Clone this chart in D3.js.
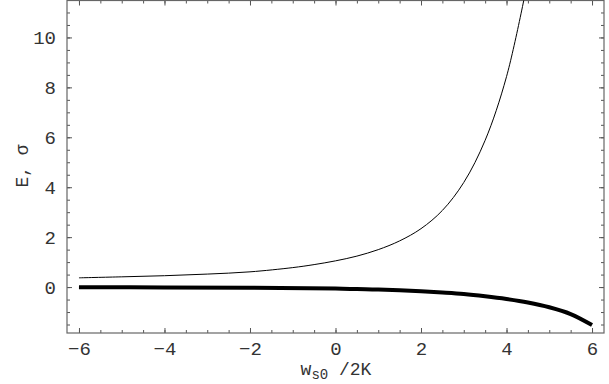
<!DOCTYPE html>
<html>
<head>
<meta charset="utf-8">
<script src="https://cdn.jsdelivr.net/npm/d3@7"></script>
<style>
  body { margin: 0; background: #fff; }
  svg { display: block; }
  .tick text { font-family: "Courier New", "Liberation Mono", monospace; font-size: 19px; fill: #333; }
  .lbl { font-family: "Courier New", "Liberation Mono", monospace; fill: #333; }
</style>
</head>
<body>
<svg id="chart" width="609" height="384"></svg>
<script>
// values
var xThin = [-6, -5, -4, -3, -2, -1, -0.5, 0, 0.5, 1, 1.5, 2, 2.5, 3, 3.5, 4, 4.5];
var yThin = [0.37, 0.41, 0.455, 0.52, 0.61, 0.78, 0.90, 1.05, 1.24, 1.50, 1.85, 2.34, 3.07, 4.19, 5.88, 8.43, 12.3];

var xThick = [-6, -4, -2, 0, 0.5, 1, 1.5, 2, 2.5, 3, 3.5, 4, 4.5, 5, 5.5, 6];
var yThick = [-0.01, -0.015, -0.03, -0.06, -0.08, -0.10, -0.13, -0.17, -0.22, -0.28, -0.37, -0.48, -0.62, -0.81, -1.08, -1.52];

var xMajor = [-6, -4, -2, 0, 2, 4, 6];
var yMajor = [0, 2, 4, 6, 8, 10];
var xMinor = d3.range(-12, 13).map(function (i) { return i / 2; });
var yMinor = d3.range(-3, 23).map(function (i) { return i / 2; });

var mLeft = 67, mRight = 604, mTop = 0.5, mBottom = 333;

var svg = d3.select("#chart");

var x = d3.scaleLinear().domain([-6.28, 6.28]).range([mLeft, mRight]);
var y = d3.scaleLinear().domain([-1.84, 11.48]).range([mBottom, mTop]);

var fmt = function (d) { return d < 0 ? "\u2212" + Math.abs(d) : String(d); };

// minor ticks
function minorAxis(axis, transform) {
  var g = svg.append("g").attr("transform", transform).call(axis);
  g.select(".domain").remove();
  g.selectAll("text").remove();
  g.selectAll("line").attr("stroke", "#555");
}
minorAxis(d3.axisBottom(x).tickValues(xMinor).tickSize(-3), "translate(0," + mBottom + ")");
minorAxis(d3.axisTop(x).tickValues(xMinor).tickSize(-3), "translate(0," + mTop + ")");
minorAxis(d3.axisLeft(y).tickValues(yMinor).tickSize(-3), "translate(" + mLeft + ",0)");
minorAxis(d3.axisRight(y).tickValues(yMinor).tickSize(-3), "translate(" + mRight + ",0)");

// major ticks with labels
var gx = svg.append("g").attr("transform", "translate(0," + mBottom + ")")
  .call(d3.axisBottom(x).tickValues(xMajor).tickSize(-5).tickPadding(9).tickFormat(fmt));
var gy = svg.append("g").attr("transform", "translate(" + mLeft + ",0)")
  .call(d3.axisLeft(y).tickValues(yMajor).tickSize(-5).tickPadding(11).tickFormat(fmt));
var gt = svg.append("g").attr("transform", "translate(0," + mTop + ")")
  .call(d3.axisTop(x).tickValues(xMajor).tickSize(-5).tickFormat(""));
var gr = svg.append("g").attr("transform", "translate(" + mRight + ",0)")
  .call(d3.axisRight(y).tickValues(yMajor).tickSize(-5).tickFormat(""));
[gx, gy, gt, gr].forEach(function (g) {
  g.select(".domain").remove();
  g.selectAll("line").attr("stroke", "#555");
});

// frame
svg.append("rect")
  .attr("x", mLeft).attr("y", mTop)
  .attr("width", mRight - mLeft).attr("height", mBottom - mTop)
  .attr("fill", "none").attr("stroke", "#666").attr("stroke-width", 1.2);

// curves
svg.append("clipPath").attr("id", "clip")
  .append("rect").attr("x", mLeft).attr("y", mTop).attr("width", mRight - mLeft).attr("height", mBottom - mTop);

var line = d3.line()
  .x(function (d) { return x(d[0]); })
  .y(function (d) { return y(d[1]); })
  .curve(d3.curveCatmullRom.alpha(0.5));

svg.append("path")
  .datum(d3.zip(xThin, yThin))
  .attr("clip-path", "url(#clip)")
  .attr("d", line)
  .attr("fill", "none").attr("stroke", "#000").attr("stroke-width", 1);

svg.append("path")
  .datum(d3.zip(xThick, yThick))
  .attr("clip-path", "url(#clip)")
  .attr("d", line)
  .attr("fill", "none").attr("stroke", "#000").attr("stroke-width", 4);

// axis labels
var xl = svg.append("text").attr("class", "lbl")
  .attr("x", 336).attr("y", 375).attr("text-anchor", "middle")
  .style("font-size", "18px");
xl.append("tspan").text("w");
xl.append("tspan").attr("dy", 4).style("font-size", "14px").text("s0");
xl.append("tspan").attr("dy", -4).text(" /2K");

svg.append("text").attr("class", "lbl")
  .attr("transform", "translate(28,166) rotate(-90)")
  .attr("text-anchor", "middle")
  .style("font-size", "18px")
  .text("E, \u03c3");
</script>
</body>
</html>
